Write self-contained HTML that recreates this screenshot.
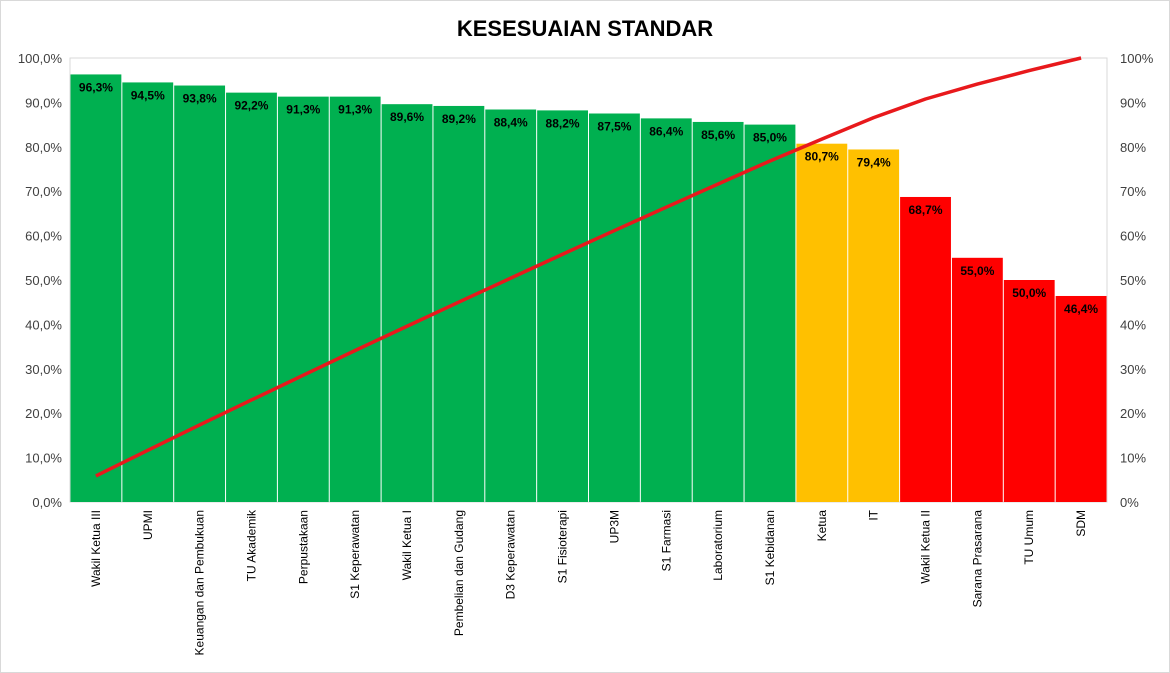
<!DOCTYPE html>
<html><head><meta charset="utf-8"><style>
body{margin:0;background:#fff}
svg{display:block;font-family:"Liberation Sans",sans-serif}
</style></head><body>
<svg id="c" width="1170" height="673">
<rect x="0.5" y="0.5" width="1169" height="672" fill="#fff" stroke="#d9d9d9"/>
<text x="585" y="36" text-anchor="middle" font-size="22" font-weight="bold" fill="#000">KESESUAIAN  STANDAR</text>
<rect x="70" y="58" width="1037" height="444" fill="none" stroke="#d9d9d9"/>
<g id="g"></g>
</svg>
<script>
const categories=["Wakil Ketua III","UPMI","Keuangan dan Pembukuan","TU Akademik","Perpustakaan","S1 Keperawatan","Wakil Ketua I","Pembelian dan Gudang","D3 Keperawatan","S1 Fisioterapi","UP3M","S1 Farmasi","Laboratorium","S1 Kebidanan","Ketua","IT","Wakil Ketua II","Sarana Prasarana","TU Umum","SDM"];
const values=[96.3,94.5,93.8,92.2,91.3,91.3,89.6,89.2,88.4,88.2,87.5,86.4,85.6,85.0,80.7,79.4,68.7,55.0,50.0,46.4];
const leftTicks=["0,0%","10,0%","20,0%","30,0%","40,0%","50,0%","60,0%","70,0%","80,0%","90,0%","100,0%"];
const rightTicks=["0%","10%","20%","30%","40%","50%","60%","70%","80%","90%","100%"];
const X0=70,X1=1107,Y0=502,Y1=58;
const g=document.getElementById('g');
const NS="http://www.w3.org/2000/svg";
function mk(t,a,txt){const e=document.createElementNS(NS,t);for(const k in a)e.setAttribute(k,a[k]);if(txt!=null)e.textContent=txt;g.appendChild(e);return e;}
const bw=(X1-X0)/categories.length;
const xs=i=>X0+i*bw;
const y=v=>Y0-(v/100)*(Y0-Y1);
leftTicks.forEach((t,i)=>{const e=mk('text',{x:62,y:y(i*10)+5,'text-anchor':'end','font-size':13,fill:'#404040'},t);

});
rightTicks.forEach((t,i)=>{const e=mk('text',{x:1120,y:y(i*10)+5,'font-size':13,fill:'#404040'},t);

});
values.forEach((v,i)=>{
 const col=v>=85?'#00b050':(v>=75?'#ffc000':'#ff0000');
 const r=mk('rect',{x:xs(i)+0.5,y:y(v),width:bw-1,height:Y0-y(v),fill:col});
 
 
 const l=mk('text',{x:xs(i)+bw/2,y:y(v)+17,'text-anchor':'middle','font-size':12,'font-weight':'bold',fill:'#000'},v.toFixed(1).replace('.',',')+'%');
 
 
 const cx=xs(i)+bw/2+4;
 const c=mk('text',{x:cx,y:510,'text-anchor':'end','font-size':12,fill:'#000',transform:`rotate(-90 ${cx} 510)`},categories[i]);
 
 
});
const total=values.reduce((a,b)=>a+b,0);
let cum=0;const pts=values.map((v,i)=>{cum+=v;return (xs(i)+bw/2)+','+y(cum/total*100);});
const pl=mk('polyline',{points:pts.join(' '),fill:'none',stroke:'#e8191c','stroke-width':3.5,'stroke-linejoin':'round'});


</script>
</body></html>
